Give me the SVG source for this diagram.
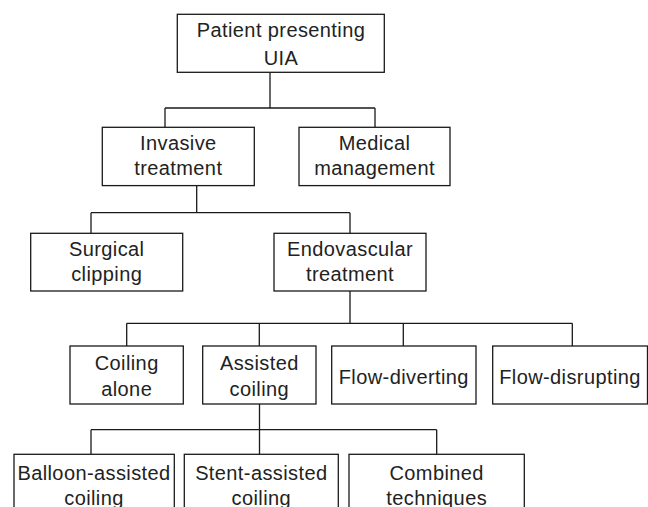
<svg xmlns="http://www.w3.org/2000/svg" width="648" height="507" viewBox="0 0 648 507">
<style>
rect{fill:#fff;stroke:#1a1a1a;stroke-width:1.3}
.c path{fill:none;stroke:#1a1a1a;stroke-width:1.3}
text{font-family:"Liberation Sans",Arial,sans-serif;font-size:20px;fill:#222;text-anchor:middle;letter-spacing:0.4px}
</style>
<rect x="0" y="0" width="648" height="507" style="stroke:none"/>
<g class="c" id="connectors">
<path d="M270 72.5V108M165 108H375M165 108V127.5M375 108V127.5"/>
<path d="M196.7 185.5V212.7M91 212.7H350M91 212.7V233.3M350 212.7V233.3"/>
<path d="M350 291V323.3M126.7 323.3H572.3M126.7 323.3V346M259.3 323.3V346M403.3 323.3V346M572.3 323.3V346"/>
<path d="M259.5 404V429.7M91 429.7H436.7M91 429.7V454.3M259.5 429.7V454.3M436.7 429.7V454.3"/>
</g>
<g id="patient"><rect x="177.3" y="14.3" width="207" height="58"/><text x="281" y="36.7">Patient presenting</text><text x="281" y="64.5">UIA</text></g>
<g id="invasive"><rect x="102.3" y="127.3" width="152" height="58.3"/><text x="178.3" y="149.5">Invasive</text><text x="178.3" y="175">treatment</text></g>
<g id="medical"><rect x="299" y="127.3" width="151" height="58.3"/><text x="374.5" y="149.5">Medical</text><text x="374.5" y="175">management</text></g>
<g id="surgical"><rect x="30.7" y="233.3" width="152" height="57.7"/><text x="106.7" y="256">Surgical</text><text x="106.7" y="281">clipping</text></g>
<g id="endovascular"><rect x="274" y="233.3" width="152" height="57.7"/><text x="350" y="256">Endovascular</text><text x="350" y="281">treatment</text></g>
<g id="coiling-alone"><rect x="70" y="346" width="113.3" height="58"/><text x="126.7" y="370">Coiling</text><text x="126.7" y="395.5">alone</text></g>
<g id="assisted-coiling"><rect x="202.7" y="346" width="113.3" height="58"/><text x="259.3" y="370">Assisted</text><text x="259.3" y="395.5">coiling</text></g>
<g id="flow-diverting"><rect x="331.7" y="346" width="144.3" height="58"/><text x="403.8" y="384">Flow-diverting</text></g>
<g id="flow-disrupting"><rect x="492.7" y="346" width="154.8" height="58"/><text x="570" y="384">Flow-disrupting</text></g>
<g id="balloon"><rect x="14" y="454.3" width="160.3" height="60"/><text x="94" y="479.5">Balloon-assisted</text><text x="94" y="504.5">coiling</text></g>
<g id="stent"><rect x="184.3" y="454.3" width="154" height="60"/><text x="261.3" y="479.5">Stent-assisted</text><text x="261.3" y="504.5">coiling</text></g>
<g id="combined"><rect x="349" y="454.3" width="175.3" height="60"/><text x="436.7" y="479.5">Combined</text><text x="436.7" y="504.5">techniques</text></g>
</svg>
